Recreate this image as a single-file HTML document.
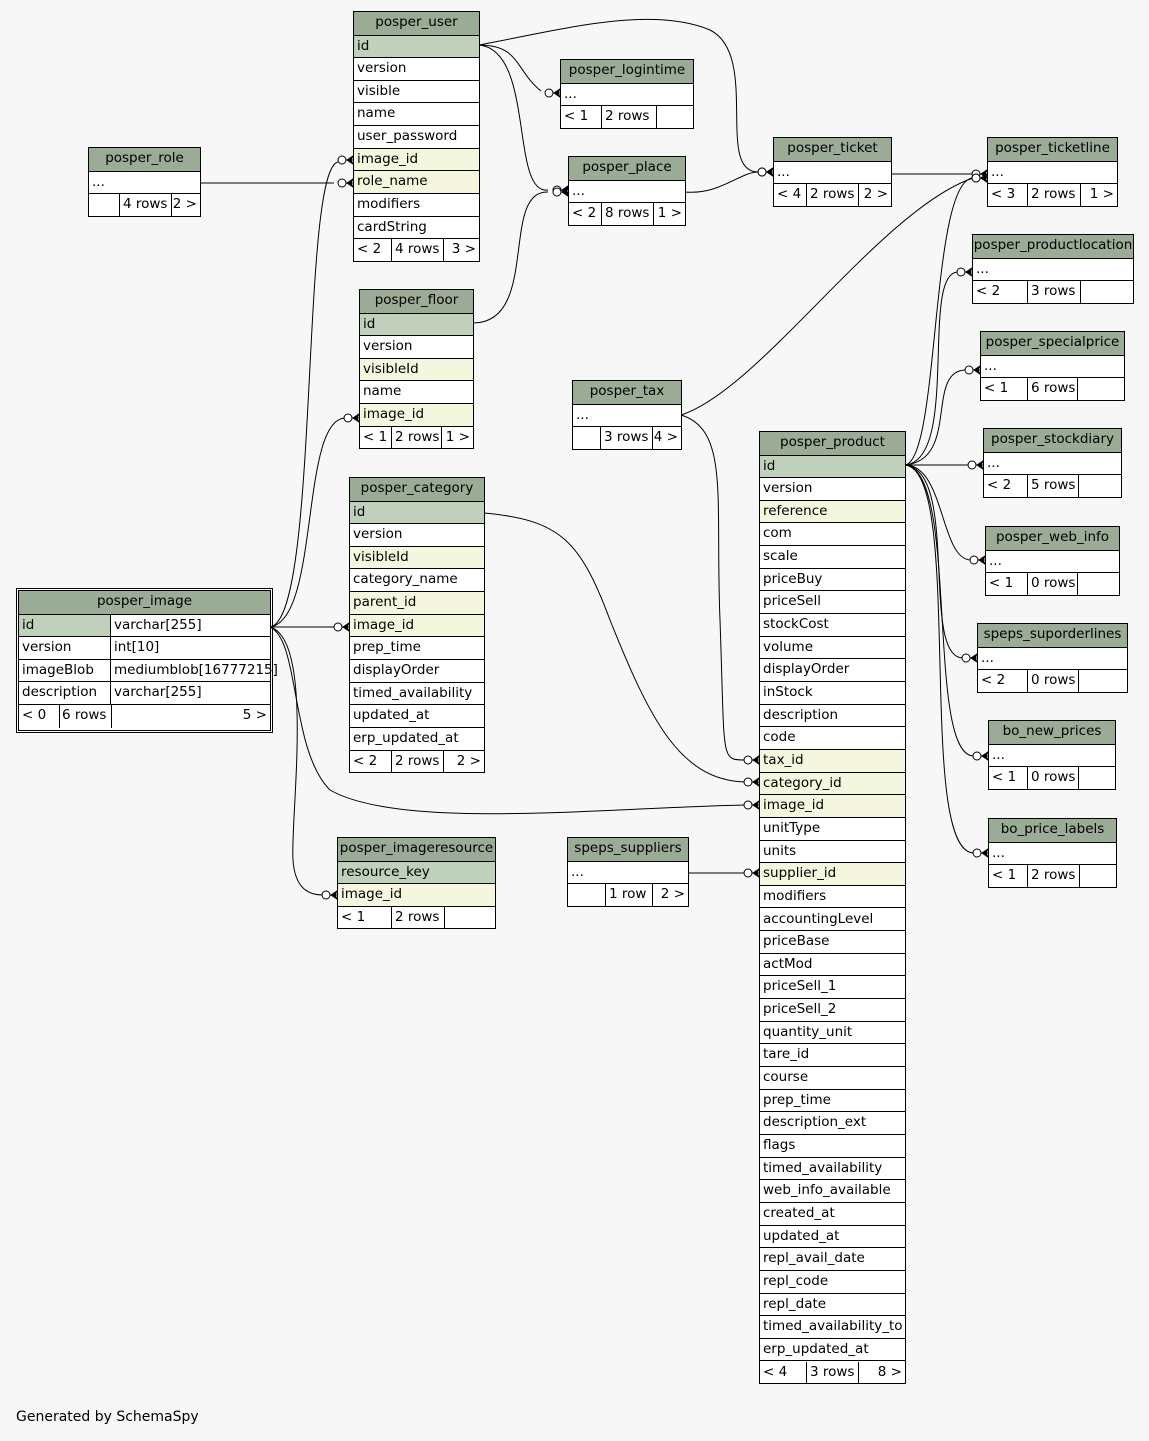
<!DOCTYPE html>
<html><head><meta charset="utf-8"><style>
body{margin:0;width:1149px;height:1441px;background:#f7f7f7;position:relative;overflow:hidden;font-family:"DejaVu Sans","Liberation Sans",sans-serif;font-size:13.5px;color:#000}
.t{position:absolute;border:1px solid #000;background:#fff;box-sizing:border-box}
.c{position:absolute;box-sizing:border-box;border-bottom:1px solid #000;white-space:nowrap;line-height:21px;padding-left:3px;overflow:visible}
.h{background:#9aab96;text-align:center;padding-left:0}
.k{background:#bfd0bb}
.f{background:#f4f7de}
.v{position:absolute;border-left:1px solid #000}
svg{position:absolute;left:0;top:0}
</style></head><body>
<svg width="1149" height="1441" id="s" fill="none" stroke="#000" stroke-width="1"></svg>
<div style="position:absolute;left:16px;top:1409px;font-size:14px">Generated by SchemaSpy</div>
<script>
var RH=22.65;
function T(name,x,y,w,rows,foot,d1,d2,hh){
 hh=hh||23.5;
 var n=rows.length;
 var h=hh+n*RH+RH+1;
 var el=document.createElement('div');el.className='t';
 el.style.cssText='left:'+x+'px;top:'+y+'px;width:'+w+'px;height:'+h+'px';
 var s='<div class="c h" style="left:0;top:0;width:100%;height:'+hh+'px">'+name+'</div>';
 rows.forEach(function(r,i){
  var cls=r[1]==='k'?'k':(r[1]==='f'?'f':'');
  s+='<div class="c '+cls+'" style="left:0;top:'+(hh+i*RH)+'px;width:100%;height:'+RH+'px">'+r[0]+'</div>';
 });
 var fy=hh+n*RH;
 s+='<div class="c" style="left:0;top:'+fy+'px;width:'+(d1-x)+'px;border:0">'+foot[0]+'</div>';
 s+='<div class="c" style="left:'+(d1-x)+'px;top:'+fy+'px;border:0">'+foot[1]+'</div>';
 s+='<div class="c" style="right:3px;top:'+fy+'px;border:0;text-align:right">'+foot[2]+'</div>';
 s+='<div class="v" style="left:'+(d1-x-1)+'px;top:'+fy+'px;height:'+RH+'px"></div>';
 s+='<div class="v" style="left:'+(d2-x-1)+'px;top:'+fy+'px;height:'+RH+'px"></div>';
 el.innerHTML=s;document.body.appendChild(el);
}
function R(a){return a.split(',').map(function(x){var p=x.split(':');return [p[0],p[1]||''];});}
T('posper_user',353,11,127,R('id:k,version,visible,name,user_password,image_id:f,role_name:f,modifiers,cardString'),['&lt; 2','4 rows','3 &gt;'],391,443);
T('posper_role',88,147,113,R('...'),['','4 rows','2 &gt;'],119,171);
T('posper_logintime',560,59,134,R('...'),['&lt; 1','2 rows',''],601,656);
T('posper_place',568,156,118,R('...'),['&lt; 2','8 rows','1 &gt;'],601,653);
T('posper_ticket',773,137,119,R('...'),['&lt; 4','2 rows','2 &gt;'],806,858);
T('posper_ticketline',987,137,131,R('...'),['&lt; 3','2 rows','1 &gt;'],1027,1080);
T('posper_productlocation',972,234,162,R('...'),['&lt; 2','3 rows',''],1027,1080);
T('posper_specialprice',980,331,145,R('...'),['&lt; 1','6 rows',''],1027,1077);
T('posper_stockdiary',983,428,139,R('...'),['&lt; 2','5 rows',''],1027,1078);
T('posper_web_info',985,526,135,R('...'),['&lt; 1','0 rows',''],1027,1077);
T('speps_suporderlines',977,623,151,R('...'),['&lt; 2','0 rows',''],1027,1078);
T('bo_new_prices',988,720,128,R('...'),['&lt; 1','0 rows',''],1027,1078);
T('bo_price_labels',988,818,129,R('...'),['&lt; 1','2 rows',''],1027,1079);
T('posper_floor',359,289,115,R('id:k,version,visibleId:f,name,image_id:f'),['&lt; 1','2 rows','1 &gt;'],391,441);
T('posper_tax',572,380,110,R('...'),['','3 rows','4 &gt;'],600,652);
T('posper_category',349,477,136,R('id:k,version,visibleId:f,category_name,parent_id:f,image_id:f,prep_time,displayOrder,timed_availability,updated_at,erp_updated_at'),['&lt; 2','2 rows','2 &gt;'],391,443);
T('posper_imageresource',337,837,159,R('resource_key:k,image_id:f'),['&lt; 1','2 rows',''],391,444);
T('speps_suppliers',567,837,122,R('...'),['','1 row','2 &gt;'],605,652);
T('posper_product',759,431,147,R('id:k,version,reference:f,com,scale,priceBuy,priceSell,stockCost,volume,displayOrder,inStock,description,code,tax_id:f,category_id:f,image_id:f,unitType,units,supplier_id:f,modifiers,accountingLevel,priceBase,actMod,priceSell_1,priceSell_2,quantity_unit,tare_id,course,prep_time,description_ext,flags,timed_availability,web_info_available,created_at,updated_at,repl_avail_date,repl_code,repl_date,timed_availability_to,erp_updated_at'),['&lt; 4','3 rows','8 &gt;'],806,858);
(function(){
 var el=document.createElement('div');
 el.style.cssText='position:absolute;left:16px;top:588px;width:257px;height:145px;border:3px double #000;box-sizing:border-box;background:#fff';
 var s='',hh=23.5;
 s+='<div class="c h" style="left:0;top:0;width:100%;height:'+hh+'px;border-bottom:1px solid #000">posper_image</div>';
 var rows=[['id','varchar[255]',1],['version','int[10]'],['imageBlob','mediumblob[16777215]'],['description','varchar[255]']];
 rows.forEach(function(r,i){
  var t=hh+i*RH;
  s+='<div class="c'+(r[2]?' k':'')+'" style="left:0;top:'+t+'px;width:92px;height:'+RH+'px;border-right:1px solid #000">'+r[0]+'</div>';
  s+='<div class="c" style="left:92px;top:'+t+'px;width:159px;height:'+RH+'px">'+r[1]+'</div>';
 });
 var fy=hh+4*RH;
 s+='<div class="c" style="left:0;top:'+fy+'px;border:0">&lt; 0</div><div class="c" style="left:40px;top:'+fy+'px;border:0">6 rows</div><div class="c" style="right:3px;top:'+fy+'px;border:0">5 &gt;</div>';
 s+='<div class="v" style="left:40px;top:'+fy+'px;height:'+RH+'px"></div><div class="v" style="left:92px;top:'+fy+'px;height:'+RH+'px"></div>';
 el.innerHTML=s;document.body.insertBefore(el,document.getElementById('s'));
})();
var svg=document.getElementById('s'),P='';
function E(d,x,y){
 P+='<path d="'+d+'"/>';
 P+='<circle cx="'+(x-11)+'" cy="'+y+'" r="4" fill="#fff"/>';
 P+='<path d="M'+(x-6)+' '+y+'L'+x+' '+(y-4)+'L'+(x-2)+' '+y+'L'+x+' '+(y+4)+'Z" fill="#000"/>';
 P+='<path d="M'+(x-7)+' '+y+'L'+x+' '+y+'"/>';
}
E('M479 45C520 45 515 70 541 91',560,93);
E('M479 45C535 50 510 195 548 190',568,190);
E('M479 45C560 30 650 5 710 30C760 55 715 172 758 172',773,172);
E('M200 183L334 183',353,183);
E('M270 627C320 620 300 170 338 162',353,160);
E('M473 323C540 323 500 190 548 192',568,192);
E('M685 192C720 195 740 172 758 172',773,172);
E('M891 174L973 174',987,174);
E('M681 415C760 390 880 210 973 178',987,178);
E('M905 465C940 460 930 180 973 178',987,178);
E('M905 465C960 460 920 272 958 272',972,272);
E('M905 465C960 460 925 370 966 370',980,370);
E('M905 465L969 465',983,465);
E('M905 465C945 465 940 560 971 560',985,560);
E('M905 465C960 470 920 658 963 658',977,658);
E('M905 465C960 470 925 756 974 756',988,756);
E('M905 465C965 470 915 853 974 853',988,853);
E('M681 415C730 430 715 500 720 620C725 760 720 760 745 760',759,760);
E('M484 513C560 520 580 540 610 620C650 720 680 780 745 782',759,782);
E('M270 627C300 640 290 750 330 790C400 830 600 808 745 805',759,805);
E('M688 873L745 873',759,873);
E('M270 627C320 620 300 420 345 418',359,418);
E('M270 627L335 627',349,627);
E('M270 627C315 640 290 820 293 860C295 890 310 895 323 895',337,895);
svg.innerHTML=P;
</script>
</body></html>
